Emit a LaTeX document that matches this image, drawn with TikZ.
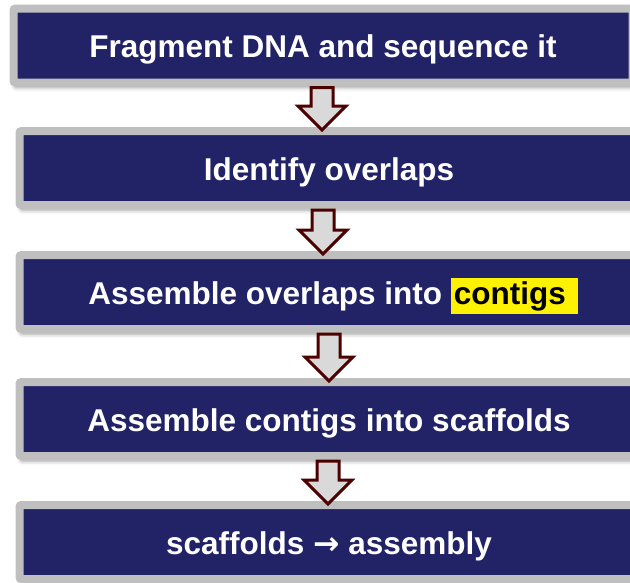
\documentclass[tikz,border=0pt]{standalone}
\usepackage{fontspec}
\setmainfont{Liberation Sans}
\newfontfamily\symfont{DejaVu Sans}
\usetikzlibrary{positioning,calc,shadows.blur}

\definecolor{stepnavy}{RGB}{34,34,102}
\definecolor{stepgray}{RGB}{191,191,191}
\definecolor{arrowred}{RGB}{77,0,0}
\definecolor{arrowfill}{RGB}{217,217,217}

\tikzset{
    stepbox/.style={draw=stepgray, line width=8pt, fill=stepnavy, text=white,
        font=\fontsize{31.5}{36}\selectfont\bfseries,
        minimum width=619pt, minimum height=74pt, inner sep=0pt,
        text height=24pt, text depth=0pt, rounded corners=2pt,
        blur shadow={shadow xshift=1pt, shadow yshift=-5pt,
            shadow blur radius=4pt, shadow opacity=40}},
    hollowarrow/.style={draw=arrowred, line width=3pt, fill=arrowfill,
        line join=miter}
}

\begin{document}
\begin{tikzpicture}[x=1pt, y=-1pt]
    \useasboundingbox (0,0) rectangle (630,582);

    % pipeline steps
    \node[stepbox] (frag) at (323,45.5) {Fragment DNA and sequence it};
    \node[stepbox] (overlap) at (329,168) {Identify overlaps};
    \node[stepbox] (contig) at (329,292)
        {\hspace*{8pt}Assemble overlaps into \colorbox{yellow}{\color{black}contigs\ }};
    \node[stepbox] (scaffold) at (329,419) {Assemble contigs into scaffolds};
    \node[stepbox] (assembly) at (329,542) {scaffolds {\symfont →} assembly};

    % hollow arrows between the steps
    \foreach \from/\to/\dx in {frag/overlap/-1pt, overlap/contig/-6pt,
                               contig/scaffold/0pt, scaffold/assembly/-1pt}{
        \draw[hollowarrow] let \p1=([xshift=\dx]\from.south), \p2=(\to.north) in
            (\x1-11pt,\y1-1pt) -- (\x1+11pt,\y1-1pt) -- (\x1+11pt,\y2+21pt)
            -- (\x1+24pt,\y2+21pt) -- (\x1,\y2-3pt) -- (\x1-24pt,\y2+21pt)
            -- (\x1-11pt,\y2+21pt) -- cycle;
    }
\end{tikzpicture}
\end{document}
